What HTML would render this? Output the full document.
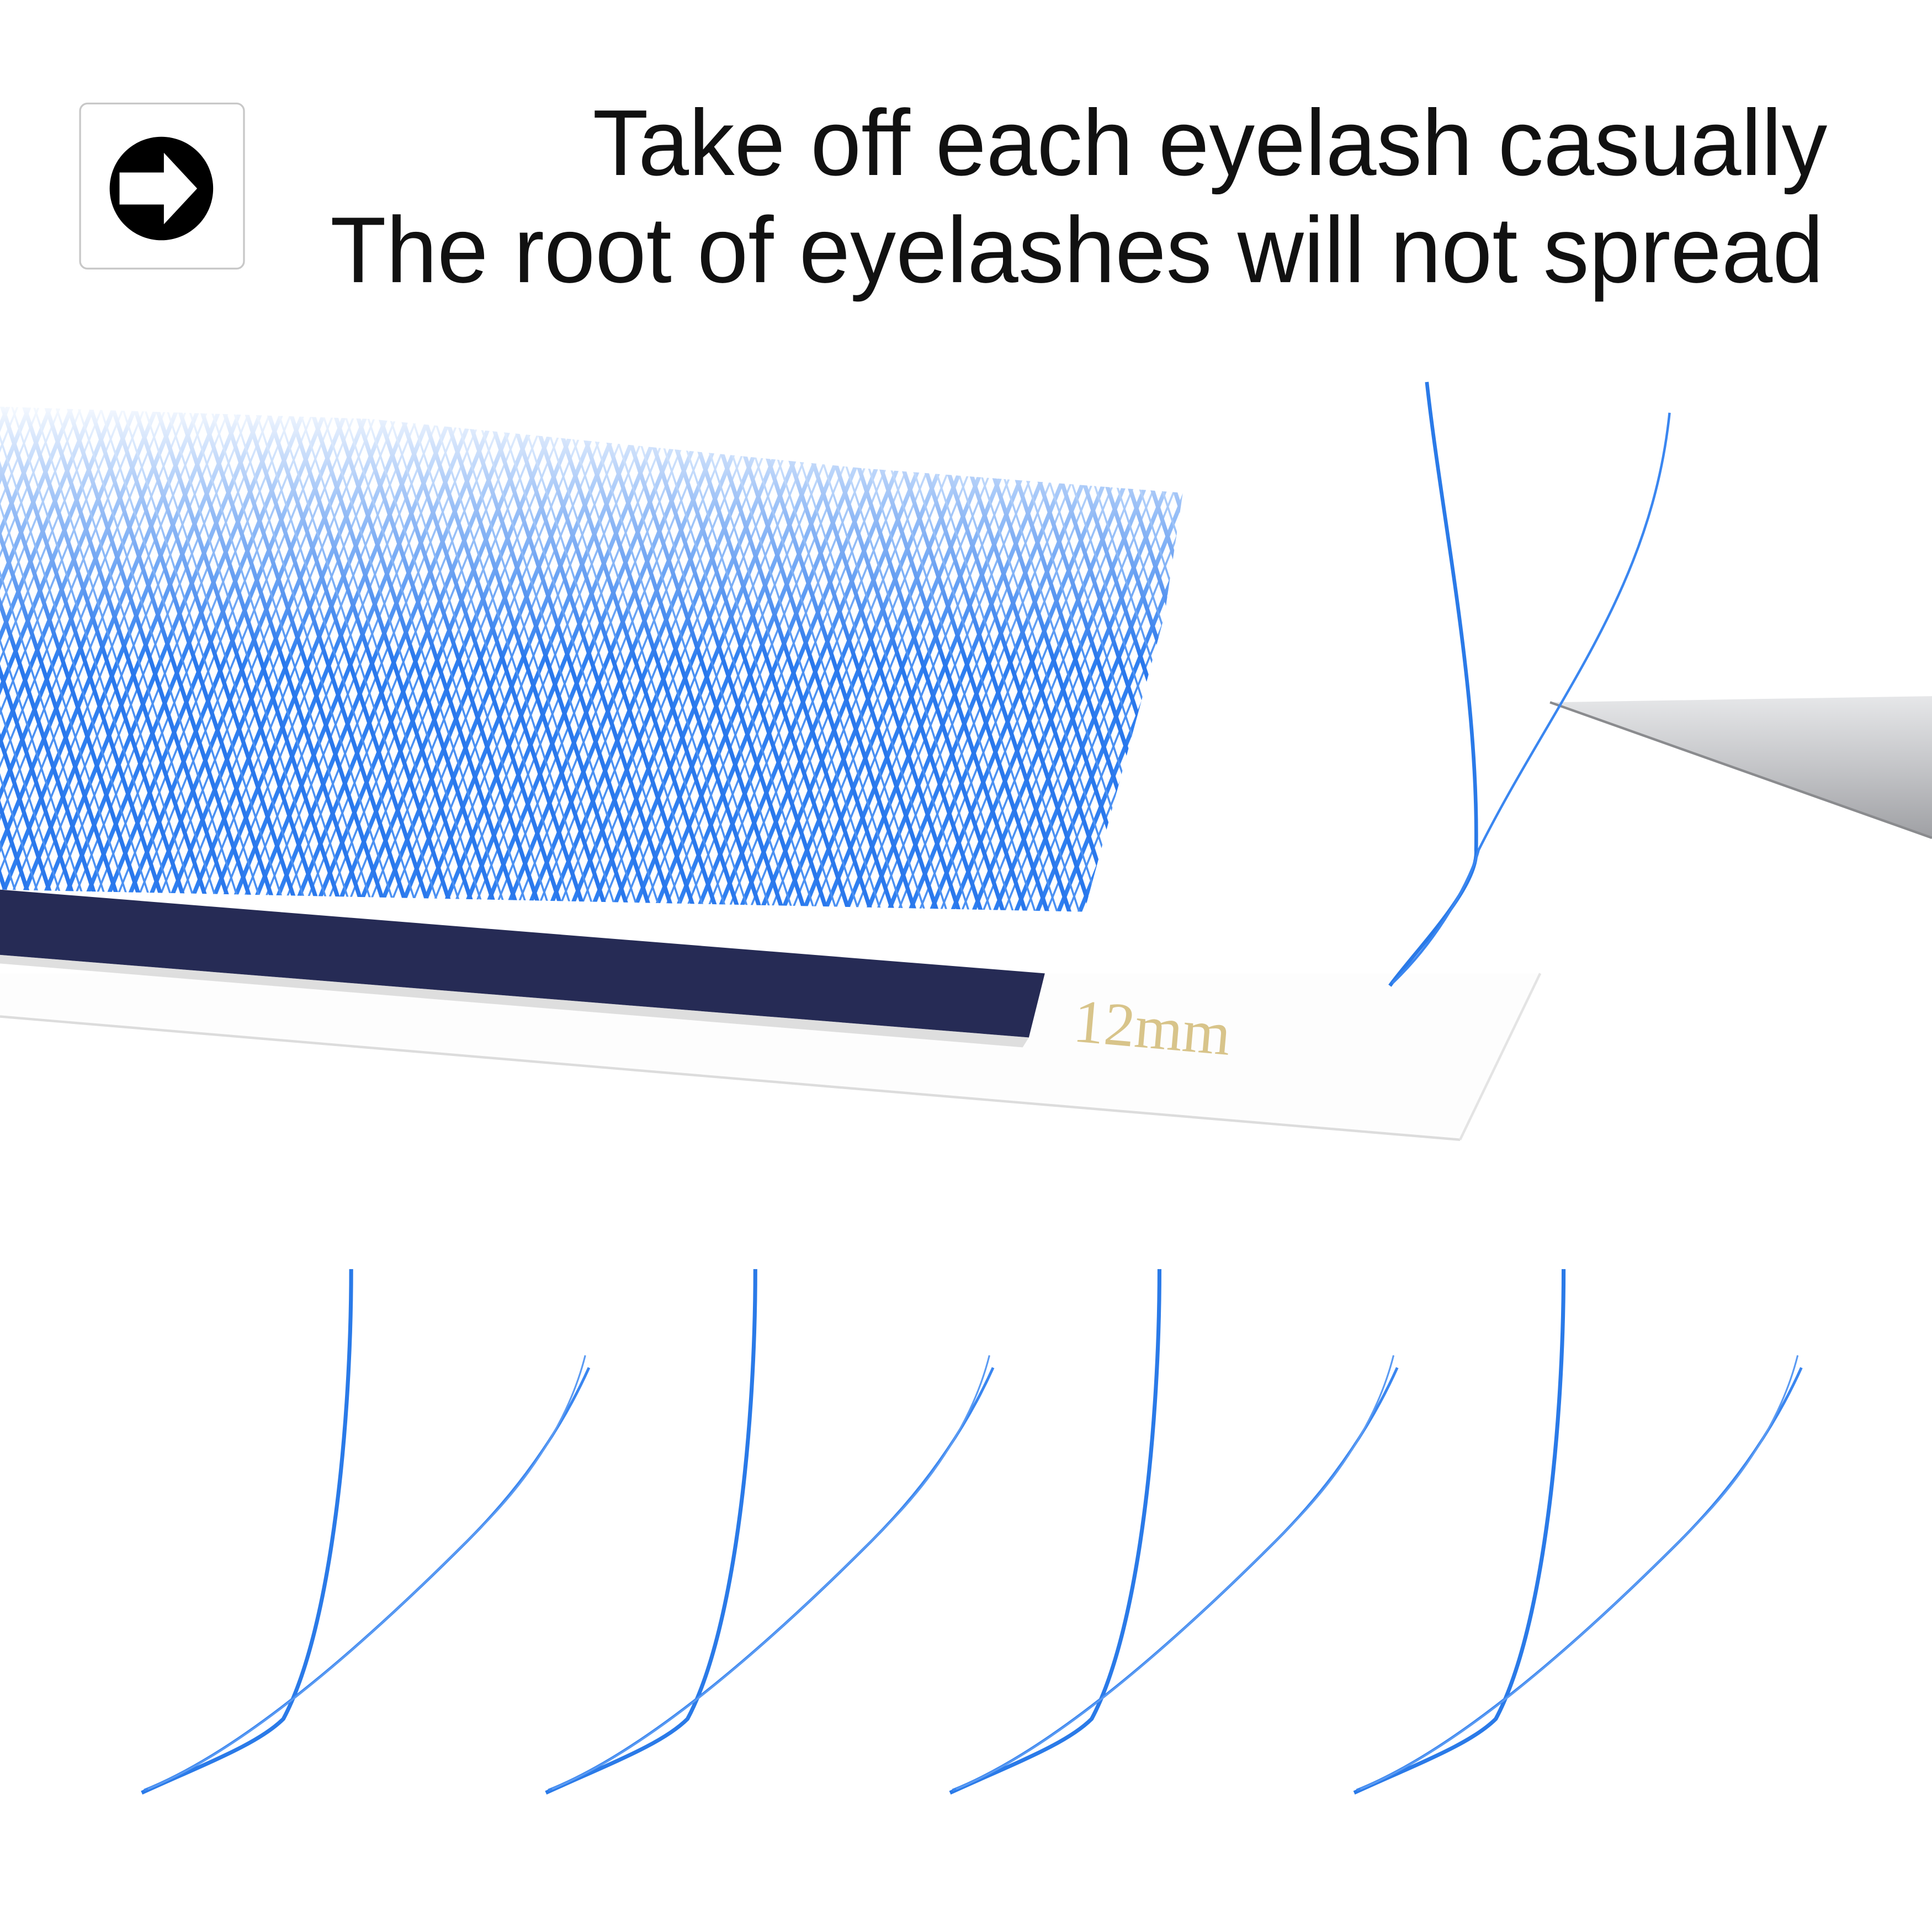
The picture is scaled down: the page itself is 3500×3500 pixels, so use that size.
<!DOCTYPE html>
<html><head><meta charset="utf-8"><style>
html,body{margin:0;padding:0;background:#fff;width:3500px;height:3500px;overflow:hidden}
svg{display:block}
</style></head><body>
<svg width="3500" height="3500" viewBox="0 0 1568 1568" xmlns="http://www.w3.org/2000/svg">
<defs>
<pattern id="pa" patternUnits="userSpaceOnUse" width="16" height="40" patternTransform="rotate(22)">
<rect x="0" y="0" width="3.4" height="40" fill="#2f7ff0"/>
<rect x="8" y="0" width="1.6" height="40" fill="#4a90f2"/>
</pattern>
<pattern id="pb" patternUnits="userSpaceOnUse" width="17" height="40" patternTransform="rotate(-18)">
<rect x="0" y="0" width="3.4" height="40" fill="#2a78ec"/>
<rect x="8.5" y="0" width="1.6" height="40" fill="#4a90f2"/>
</pattern>
<linearGradient id="fade" x1="0" y1="0" x2="0" y2="1">
<stop offset="0" stop-color="#fff" stop-opacity="0"/>
<stop offset="0.2" stop-color="#fff" stop-opacity="0.5"/>
<stop offset="0.45" stop-color="#fff" stop-opacity="1"/>
</linearGradient>
<mask id="m"><rect x="0" y="320" width="980" height="480" fill="url(#fade)"/></mask>
<clipPath id="cl"><polygon points="0,330 300,340 700,380 960,400 945,500 880,740 0,722"/></clipPath>
<linearGradient id="tw" x1="0" y1="0" x2="0" y2="1">
<stop offset="0" stop-color="#e6e7e9"/><stop offset="0.5" stop-color="#c4c5c8"/><stop offset="1" stop-color="#9fa0a4"/>
</linearGradient>
</defs>
<rect width="1568" height="1568" fill="#fff"/>
<rect x="65" y="84" width="133" height="134" rx="6" fill="#fff" stroke="#c8c8c8" stroke-width="1.5"/>
<circle cx="131" cy="153" r="42" fill="#000"/>
<polygon points="97,140 133,140 133,124 160,153 133,182 133,166 97,166" fill="#fff"/>
<text x="481" y="142" textLength="1002" lengthAdjust="spacingAndGlyphs" font-family="Liberation Sans, sans-serif" font-size="76" fill="#111">Take off each eyelash casually</text>
<text x="268" y="229" textLength="1212" lengthAdjust="spacingAndGlyphs" font-family="Liberation Sans, sans-serif" font-size="76" fill="#111">The root of eyelashes will not spread</text>
<polygon points="0,790 1250,790 1185,925 0,825" fill="#fdfdfd"/>
<line x1="0" y1="825" x2="1185" y2="925" stroke="#dcdcdc" stroke-width="2"/>
<line x1="1185" y1="925" x2="1250" y2="790" stroke="#e4e4e4" stroke-width="2"/>
<g clip-path="url(#cl)" mask="url(#m)">
<rect x="0" y="300" width="980" height="460" fill="url(#pa)"/>
<rect x="0" y="300" width="980" height="460" fill="url(#pb)"/>
</g>
<polygon points="0,722 848,790 835,842 0,775" fill="#262b55"/>
<polygon points="0,775 835,842 830,850 0,782" fill="#c9c9c9" opacity="0.6"/>
<text x="870" y="845" font-family="Liberation Serif, serif" font-size="50" fill="#d8c48a" transform="rotate(5 870 845)">12mm</text>
<polygon points="1258,570 1568,565 1568,680" fill="url(#tw)"/>
<line x1="1258" y1="570" x2="1568" y2="680" stroke="#8a8b8e" stroke-width="2"/>
<path d="M1128,800 C1150,770 1200,720 1198,690 C1200,560 1170,420 1158,310" stroke="#2a7ae8" stroke-width="3" fill="none"/>
<path d="M1130,798 C1170,760 1195,710 1200,690 C1260,570 1340,480 1355,335" stroke="#3a86f0" stroke-width="2" fill="none"/>
<g id="b1" fill="none">
<path d="M115,1455 C170,1430 210,1415 230,1395 C270,1320 285,1150 285,1030" stroke="#2a7ae8" stroke-width="3.2"/>
<path d="M117,1453 C200,1420 300,1330 380,1250 C430,1200 460,1150 478,1110" stroke="#3a86f0" stroke-width="2.2"/>
<path d="M120,1452 C210,1415 310,1320 390,1240 C440,1190 465,1140 475,1100" stroke="#5a9af2" stroke-width="1.4"/>
</g>
<use href="#b1" x="328"/>
<use href="#b1" x="656"/>
<use href="#b1" x="984"/>
</svg>
</body></html>
